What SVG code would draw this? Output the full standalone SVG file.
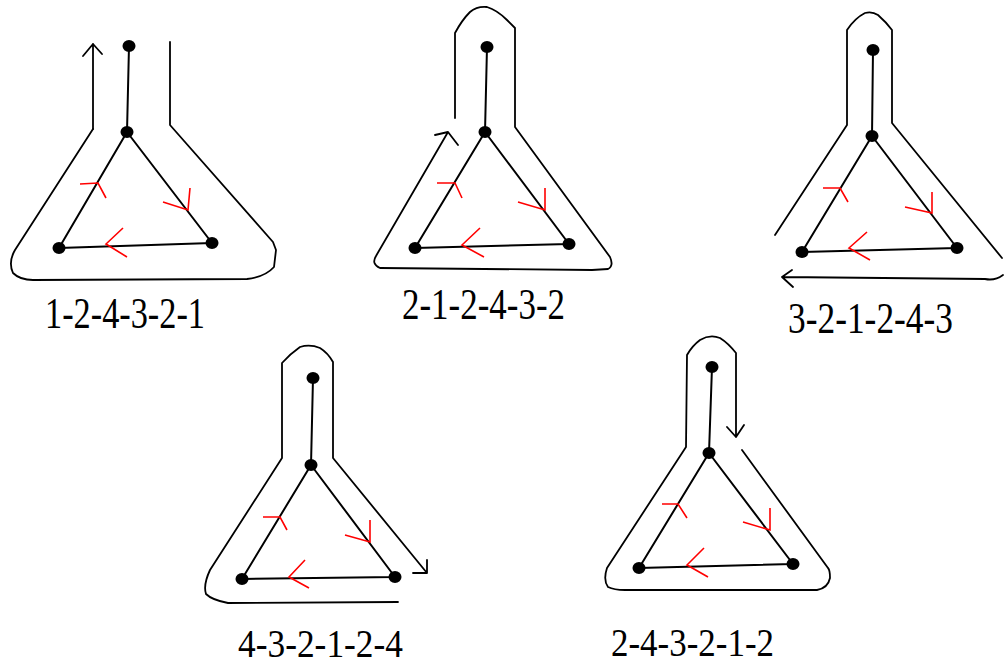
<svg xmlns="http://www.w3.org/2000/svg" width="1004" height="666" viewBox="0 0 1004 666">
<style>
.edge{stroke:#000;stroke-width:2;fill:none}
.out{stroke:#000;stroke-width:1.8;fill:none;stroke-linejoin:round;stroke-linecap:round}
.red{stroke:#ff0000;stroke-width:1.6;fill:none}
.dot{fill:#000}
.lbl{font-family:"Liberation Serif","Times New Roman",serif;font-size:44px;fill:#000}
.lbl2{font-family:"Liberation Serif","Times New Roman",serif;font-size:40px;fill:#000}
</style>
<rect width="1004" height="666" fill="#fff"/>
<g id="fig1">
<path class="edge" d="M129,46 L127,132 M127,132 L59,248 M127,132 L212,243 M59,248 L212,243"/>
<ellipse class="dot" cx="129" cy="46" rx="6.5" ry="6"/>
<ellipse class="dot" cx="127" cy="132" rx="6.5" ry="6"/>
<ellipse class="dot" cx="59" cy="248" rx="6.5" ry="6"/>
<ellipse class="dot" cx="212" cy="243" rx="6.5" ry="6"/>
<path class="red" d="M80,184 L98,183 L106,198 M163,202 L188,210 L190,188 M123,228 L106,244 L127,257"/>
<text class="lbl" x="45" y="328" textLength="160" lengthAdjust="spacingAndGlyphs">1-2-4-3-2-1</text>
</g>
<g id="fig2">
<path class="edge" d="M487,47 L485,132 M485,132 L415,248 M485,132 L569,244 M415,248 L569,244"/>
<ellipse class="dot" cx="487" cy="47" rx="6.5" ry="6"/>
<ellipse class="dot" cx="485" cy="132" rx="6.5" ry="6"/>
<ellipse class="dot" cx="415" cy="248" rx="6.5" ry="6"/>
<ellipse class="dot" cx="569" cy="244" rx="6.5" ry="6"/>
<path class="red" d="M437,183 L455,183 L462,198 M518,202 L545,210 L545,188 M480,228 L462,245 L484,257"/>
<text class="lbl" x="402" y="319" textLength="163" lengthAdjust="spacingAndGlyphs">2-1-2-4-3-2</text>
</g>
<g id="fig3">
<path class="edge" d="M873,50 L872,136 M872,136 L802,252 M872,136 L957,248 M802,252 L957,248"/>
<ellipse class="dot" cx="873" cy="50" rx="6.5" ry="6"/>
<ellipse class="dot" cx="872" cy="136" rx="6.5" ry="6"/>
<ellipse class="dot" cx="802" cy="252" rx="6.5" ry="6"/>
<ellipse class="dot" cx="957" cy="248" rx="6.5" ry="6"/>
<path class="red" d="M823,188 L840,188 L848,202 M905,207 L932,213 L932,192 M867,232 L849,248 L870,260"/>
<text class="lbl" x="788" y="333" textLength="165" lengthAdjust="spacingAndGlyphs">3-2-1-2-4-3</text>
</g>
<g id="fig4">
<path class="edge" d="M313,378 L311,465 M311,465 L242,579 M311,465 L395,577 M242,579 L395,577"/>
<ellipse class="dot" cx="313" cy="378" rx="6.5" ry="6"/>
<ellipse class="dot" cx="311" cy="465" rx="6.5" ry="6"/>
<ellipse class="dot" cx="242" cy="579" rx="6.5" ry="6"/>
<ellipse class="dot" cx="395" cy="577" rx="6.5" ry="6"/>
<path class="red" d="M263,517 L280,517 L287,530 M345,535 L370,542 L370,520 M305,560 L289,577 L309,588"/>
<text class="lbl2" x="238" y="657" textLength="165" lengthAdjust="spacingAndGlyphs">4-3-2-1-2-4</text>
</g>
<g id="fig5">
<path class="edge" d="M712,367 L709,453 M709,453 L639,568 M709,453 L793,564 M639,568 L793,564"/>
<ellipse class="dot" cx="712" cy="367" rx="6.5" ry="6"/>
<ellipse class="dot" cx="709" cy="453" rx="6.5" ry="6"/>
<ellipse class="dot" cx="639" cy="568" rx="6.5" ry="6"/>
<ellipse class="dot" cx="793" cy="564" rx="6.5" ry="6"/>
<path class="red" d="M662,504 L678,504 L687,518 M743,522 L770,530 L770,508 M704,548 L687,565 L708,577"/>
<text class="lbl2" x="611" y="656" textLength="163" lengthAdjust="spacingAndGlyphs">2-4-3-2-1-2</text>
</g>
<g id="connectors">
<path class="out" d="M93,129 L93,44 M83,56 L93,44 L102,54"/>
<path class="out" d="M93,129 L15,250 Q8,262 13,273 Q20,280 33,280 L247,279 Q265,277 274,267 L276,250 L273,242 L170,125 L170,42"/>
<path class="out" d="M455,118 L455,33 Q462,20 470,12 Q477,6 487,7 Q497,10 507,20 L515,28 L515,127 L610,257 Q614,266 608,269 L592,270 L380,268 Q371,264 376,256 L448,132 M435,135 L448,132 L458,145"/>
<path class="out" d="M775,235 L847,125 L847,30 Q855,18 865,13 Q872,11 878,15 Q886,22 892,30 L892,123 L1002,258"/>
<path class="out" d="M1003,275 Q995,281 985,279 L782,277 M792,270 L782,277 L793,287"/>
<path class="out" d="M398,602 L228,603 Q212,600 206,594 Q203,585 210,570 L282,458 L282,363 Q290,354 300,347 Q310,344 320,348 Q328,353 333,362 L333,458 L427,573 M413,573 L427,573 L427,560"/>
<path class="out" d="M736,437 L736,353 Q728,343 720,338 Q710,334 700,340 Q692,346 687,355 L686,447 L607,568 Q603,580 608,587 Q614,590 625,590 L817,590 Q828,588 830,578 Q830,570 828,568 L742,450 M727,427 L736,437 L744,425"/>
</g>
</svg>
